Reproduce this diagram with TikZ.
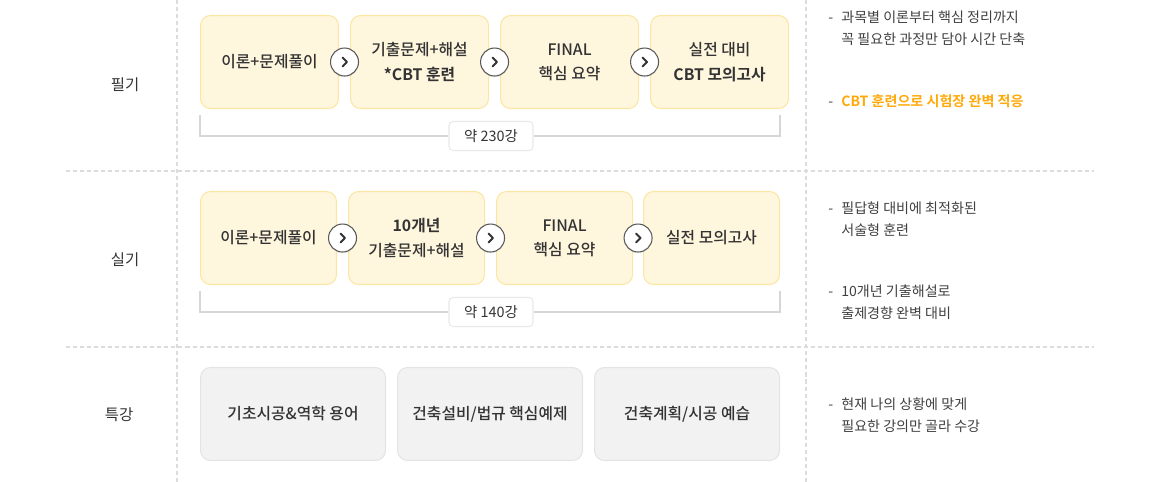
\documentclass[tikz,border=0pt]{standalone}
\usepackage{fontspec}
\setmainfont{Noto Sans CJK KR}[BoldFont={Noto Sans CJK KR Bold}]
\newfontfamily\mediumfont{Noto Sans CJK KR Medium}[BoldFont={Noto Sans CJK KR Bold}]
\usetikzlibrary{positioning,calc,shadows}

\definecolor{cardfill}{HTML}{FFF6DE}
\definecolor{carddraw}{HTML}{FCE6A4}
\definecolor{extrafill}{HTML}{F2F2F2}
\definecolor{extradraw}{HTML}{E4E4E4}
\definecolor{gridgray}{HTML}{DCDCDC}
\definecolor{inkgray}{HTML}{333333}
\definecolor{accent}{HTML}{FFA90A}

\newcommand{\dashitem}{\makebox[0.26cm][l]{\textcolor{black!75}{-}}}
\newcommand{\dashindent}{\hspace*{0.26cm}}

\begin{document}
\begin{tikzpicture}[
  x=0.02cm, y=-0.02cm,
  node distance=0.22cm,
  every node/.style={text=inkgray},
  stepbox/.style={rectangle, rounded corners=0.2cm, draw=carddraw, fill=cardfill, line width=0.6pt,
    minimum height=1.86cm, minimum width=2.76cm, align=center, font=\mediumfont\fontsize{9}{13.8}\selectfont},
  extrabox/.style={stepbox, draw=extradraw, fill=extrafill, minimum width=3.70cm},
  nextbtn/.style={circle, draw=black!65, fill=white, line width=0.6pt, minimum size=0.56cm, inner sep=0pt,
    drop shadow={opacity=0.12, shadow xshift=0pt, shadow yshift=-0.8pt}},
  chev/.style={line width=1.1pt, draw=inkgray, line cap=round, line join=round},
  countbox/.style={rectangle, rounded corners=0.08cm, draw=black!9, fill=white, line width=0.6pt,
    minimum width=1.68cm, minimum height=0.58cm, font=\fontsize{8.2}{10}\selectfont},
  bracket/.style={draw=black!16, line width=0.7pt},
  grid/.style={draw=gridgray, line width=0.6pt, dash pattern=on 2.3pt off 1.7pt},
  rowlabel/.style={font=\fontsize{8.8}{10}\selectfont},
  note/.style={anchor=north west, align=left, inner sep=0pt, text=black!75, font=\fontsize{8}{12.5}\selectfont}
]
\useasboundingbox (0,0) rectangle (1160,482);

% Table grid
\draw[grid] (66,171) -- (1094,171);
\draw[grid] (66,347) -- (1094,347);
\draw[grid] (177,0) -- (177,482);
\draw[grid] (806,0) -- (806,482);

% Row labels
\node[rowlabel] (lwrite) at (125,85) {필기};
\node[rowlabel] (lpract) at (125,260) {실기};
\node[rowlabel] (lextra) at (119,415) {특강};

% Written exam steps
\node[stepbox, anchor=north west] (w1) at (200,15) {이론+문제풀이};
\node[stepbox, right=of w1] (w2) {기출문제+해설\\\textbf{*CBT 훈련}};
\node[stepbox, right=of w2] (w3) {FINAL\\핵심 요약};
\node[stepbox, right=of w3] (w4) {실전 대비\\\textbf{CBT 모의고사}};

% Practical exam steps
\node[stepbox, anchor=north west, minimum width=2.72cm] (p1) at (200,191) {이론+문제풀이};
\node[stepbox, right=of p1, minimum width=2.72cm] (p2) {\textbf{10개년}\\기출문제+해설};
\node[stepbox, right=of p2, minimum width=2.72cm] (p3) {FINAL\\핵심 요약};
\node[stepbox, right=0.2cm of p3, minimum width=2.72cm] (p4) {실전 모의고사};

% Special lectures
\node[extrabox, anchor=north west] (s1) at (200,367) {기초시공\&역학 용어};
\node[extrabox, right=of s1] (s2) {건축설비/법규 핵심예제};
\node[extrabox, right=of s2] (s3) {건축계획/시공 예습};

% Next buttons
\node[nextbtn] (a1) at ($(w1.east)!0.5!(w2.west)$) {};
\node[nextbtn] (a2) at ($(w2.east)!0.5!(w3.west)$) {};
\node[nextbtn] (a3) at ($(w3.east)!0.5!(w4.west)$) {};
\node[nextbtn] (a4) at ($(p1.east)!0.5!(p2.west)$) {};
\node[nextbtn] (a5) at ($(p2.east)!0.5!(p3.west)$) {};
\node[nextbtn] (a6) at ($(p3.east)!0.5!(p4.west)$) {};
\foreach \b in {a1,a2,a3,a4,a5,a6}
  \draw[chev] ($(\b)+(-2,-4.5)$) -- ($(\b)+(2.5,0)$) -- ($(\b)+(-2,4.5)$);

% Lecture counts
\node[countbox] (cnt1) at (491,136) {약 230강};
\node[countbox] (cnt2) at (491,312) {약 140강};
\coordinate (br1l) at (200,115);
\coordinate (br1r) at (780,115);
\coordinate (br2l) at (200,291);
\coordinate (br2r) at (780,291);
\draw[bracket] (br1l) |- (cnt1.west);
\draw[bracket] (br1r) |- (cnt1.east);
\draw[bracket] (br2l) |- (cnt2.west);
\draw[bracket] (br2r) |- (cnt2.east);

% Notes
\node[note] (n1) at (828,11) {\dashitem 과목별 이론부터 핵심 정리까지\\\dashindent 꼭 필요한 과정만 담아 시간 단축};
\node[note, text=accent] (n2) at (828,94) {\dashitem\textbf{CBT 훈련으로 시험장 완벽 적응}};
\node[note] (n3) at (828,201) {\dashitem 필답형 대비에 최적화된\\\dashindent 서술형 훈련};
\node[note] (n4) at (828,284) {\dashitem 10개년 기출해설로\\\dashindent 출제경향 완벽 대비};
\node[note] (n5) at (828,397) {\dashitem 현재 나의 상황에 맞게\\\dashindent 필요한 강의만 골라 수강};

\end{tikzpicture}
\end{document}
